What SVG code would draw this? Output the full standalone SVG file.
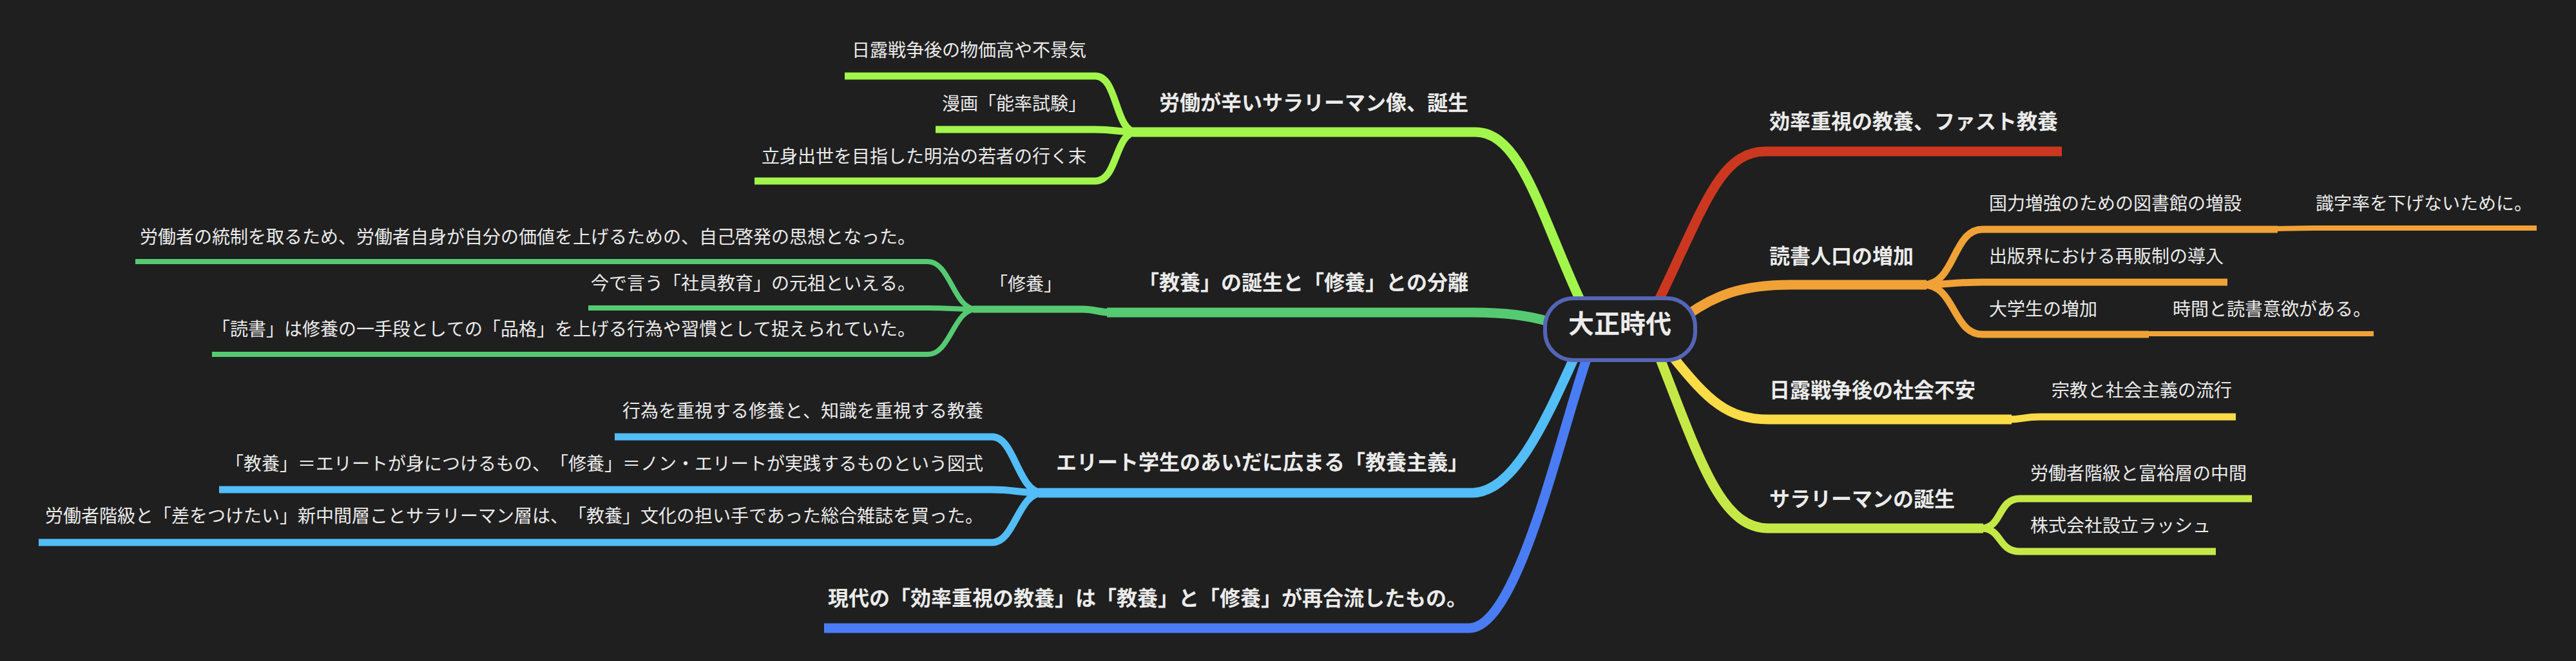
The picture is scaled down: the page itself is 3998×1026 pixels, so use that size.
<svg xmlns="http://www.w3.org/2000/svg" width="3998" height="1026" viewBox="0 0 3998 1026">
<style>
.t{font-family:"Noto Sans CJK JP","Noto Sans CJK SC",sans-serif;fill:#ebebeb;text-spacing-trim:space-all;font-kerning:none}
.b1{font-size:32px;font-weight:700}
.n2{font-size:28px;font-weight:400}
.ct{font-size:40px;font-weight:700}
.e{text-anchor:end}
path{fill:none;stroke-linecap:butt}
.l1{stroke-width:15}
.l2{stroke-width:11}
.l3{stroke-width:8}
.red{stroke:#cc3720}
.org{stroke:#f0a236}
.yel{stroke:#fbdb46}
.yg{stroke:#c6e847}
.gy{stroke:#a2f54a}
.grn{stroke:#55ca72}
.lb{stroke:#52bdf8}
.blu{stroke:#4a7cf5}
</style>
<rect x="0" y="0" width="3998" height="1026" fill="#1f1f1f"/>
<g id="connectors">
  <path class="l1 red" d="M 2575 465 C 2645 320, 2670 235, 2740 235 H 3200"/>
  <path class="l1 org" d="M 2620 488 C 2660 460, 2700 442, 2780 442 H 2990"/>
  <path class="l2 org" d="M 2985 442 C 3035 442, 3030 356, 3077 356 H 3535"/>
  <path class="l3 org" d="M 3530 355 C 3555 355, 3560 354, 3590 354 H 3937"/>
  <path class="l2 org" d="M 2985 442 C 3020 442, 3030 438, 3077 438 H 3457"/>
  <path class="l2 org" d="M 2985 442 C 3035 442, 3030 519, 3077 519 H 3335"/>
  <path class="l3 org" d="M 3330 518 C 3355 518, 3360 518, 3385 518 H 3684"/>
  <path class="l1 yel" d="M 2598 556 C 2650 620, 2680 651, 2745 651 H 3122"/>
  <path class="l2 yel" d="M 3118 651 C 3140 651, 3140 647, 3165 647 H 3470"/>
  <path class="l1 yg" d="M 2577 558 C 2640 720, 2672 820, 2745 820 H 3078"/>
  <path class="l2 yg" d="M 3075 820 C 3108 820, 3100 774, 3135 774 H 3495"/>
  <path class="l2 yg" d="M 3075 820 C 3108 820, 3100 856, 3135 856 H 3439"/>
  <path class="l1 gy" d="M 2452 465 C 2390 330, 2360 205, 2290 205 H 1758"/>
  <path class="l2 gy" d="M 1764 205 C 1730 205, 1735 118, 1700 118 H 1311"/>
  <path class="l2 gy" d="M 1764 205 C 1735 205, 1730 201, 1700 201 H 1452"/>
  <path class="l2 gy" d="M 1764 205 C 1730 205, 1735 281, 1700 281 H 1171"/>
  <path class="l1 grn" d="M 2400 498 C 2370 490, 2340 485, 2280 485 H 1718"/>
  <path class="l2 grn" d="M 1725 485 C 1705 485, 1700 480, 1680 480 H 1510"/>
  <path class="l3 grn" d="M 1515 480 C 1480 480, 1475 406, 1440 406 H 210"/>
  <path class="l3 grn" d="M 1515 480 C 1480 480, 1475 478, 1440 478 H 913"/>
  <path class="l3 grn" d="M 1515 480 C 1480 480, 1475 550, 1440 550 H 329"/>
  <path class="l1 lb" d="M 2442 558 C 2400 650, 2350 765, 2285 765 H 1612"/>
  <path class="l2 lb" d="M 1618 765 C 1580 765, 1575 678, 1540 678 H 954"/>
  <path class="l2 lb" d="M 1618 765 C 1580 765, 1575 760, 1540 760 H 340"/>
  <path class="l2 lb" d="M 1618 765 C 1580 765, 1575 842, 1540 842 H 60"/>
  <path class="l1 blu" d="M 2462 558 C 2420 680, 2355 975, 2280 975 H 1279"/>
</g>
<g id="center">
  <rect x="2398" y="463" width="233" height="96" rx="44" ry="44" fill="#1f1f1f" stroke="#5565b6" stroke-width="6"/>
  <text class="t ct" x="2514" y="517" text-anchor="middle">大正時代</text>
</g>
<g id="n-fast">
  <text class="t b1" x="2746" y="200">効率重視の教養、ファスト教養</text>
</g>
<g id="n-reading">
  <text class="t b1" x="2746" y="409">読書人口の増加</text>
</g>
<g id="n-library">
  <text class="t n2" x="3087" y="326">国力増強のための図書館の増設</text>
</g>
<g id="n-literacy">
  <text class="t n2" x="3594" y="326">識字率を下げないために。</text>
</g>
<g id="n-resale">
  <text class="t n2" x="3087" y="408">出版界における再販制の導入</text>
</g>
<g id="n-students">
  <text class="t n2" x="3087" y="490">大学生の増加</text>
</g>
<g id="n-time">
  <text class="t n2" x="3372" y="490">時間と読書意欲がある。</text>
</g>
<g id="n-unrest">
  <text class="t b1" x="2746" y="617">日露戦争後の社会不安</text>
</g>
<g id="n-religion">
  <text class="t n2" x="3184" y="616">宗教と社会主義の流行</text>
</g>
<g id="n-salaryman">
  <text class="t b1" x="2746" y="786">サラリーマンの誕生</text>
</g>
<g id="n-middle">
  <text class="t n2" x="3151" y="745">労働者階級と富裕層の中間</text>
</g>
<g id="n-rush">
  <text class="t n2" x="3151" y="826">株式会社設立ラッシュ</text>
</g>
<g id="n-hard">
  <text class="t b1 e" x="2279" y="171">労働が辛いサラリーマン像、誕生</text>
</g>
<g id="n-prices">
  <text class="t n2 e" x="1686" y="88">日露戦争後の物価高や不景気</text>
</g>
<g id="n-manga">
  <text class="t n2 e" x="1686" y="171">漫画「能率試験」</text>
</g>
<g id="n-youth">
  <text class="t n2 e" x="1686" y="253">立身出世を目指した明治の若者の行く末</text>
</g>
<g id="n-split">
  <text class="t b1 e" x="2279" y="450">「教養」の誕生と「修養」との分離</text>
</g>
<g id="n-shuyo">
  <text class="t n2 e" x="1648" y="451">「修養」</text>
</g>
<g id="n-control">
  <text class="t n2 e" x="1421" y="378">労働者の統制を取るため、労働者自身が自分の価値を上げるための、自己啓発の思想となった。</text>
</g>
<g id="n-training">
  <text class="t n2 e" x="1421" y="450">今で言う「社員教育」の元祖といえる。</text>
</g>
<g id="n-dignity">
  <text class="t n2 e" x="1421" y="521">「読書」は修養の一手段としての「品格」を上げる行為や習慣として捉えられていた。</text>
</g>
<g id="n-elite">
  <text class="t b1 e" x="2279" y="729">エリート学生のあいだに広まる「教養主義」</text>
</g>
<g id="n-action">
  <text class="t n2 e" x="1526" y="648">行為を重視する修養と、知識を重視する教養</text>
</g>
<g id="n-schema">
  <text class="t n2 e" x="1526" y="730">「教養」＝エリートが身につけるもの、「修養」＝ノン・エリートが実践するものという図式</text>
</g>
<g id="n-magazine">
  <text class="t n2 e" x="1526" y="811">労働者階級と「差をつけたい」新中間層ことサラリーマン層は、「教養」文化の担い手であった総合雑誌を買った。</text>
</g>
<g id="n-modern">
  <text class="t b1 e" x="2277" y="940">現代の「効率重視の教養」は「教養」と「修養」が再合流したもの。</text>
</g>
</svg>
